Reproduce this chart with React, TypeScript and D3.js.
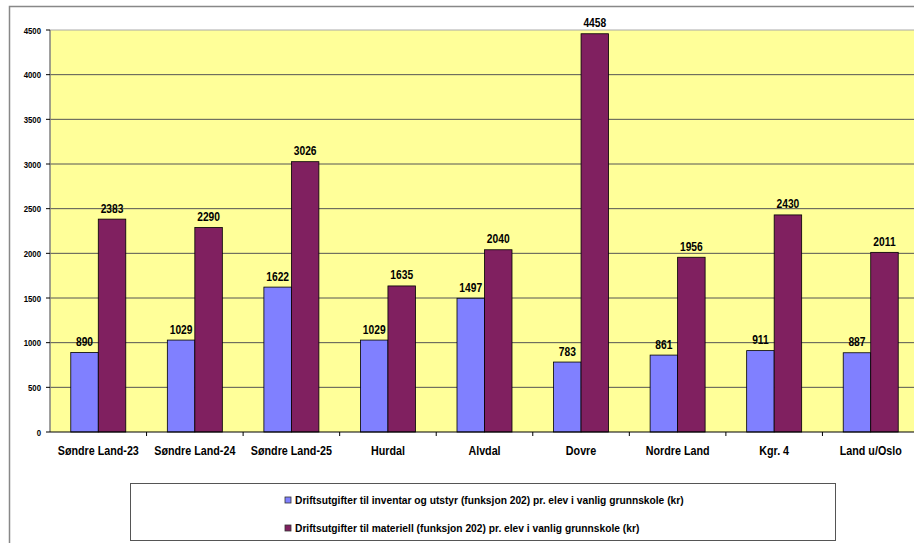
import React from "react";
import * as d3 from "d3";

const categories = ["Søndre Land-23", "Søndre Land-24", "Søndre Land-25", "Hurdal", "Alvdal", "Dovre", "Nordre Land", "Kgr. 4", "Land u/Oslo"];
const inventar = [890, 1029, 1622, 1029, 1497, 783, 861, 911, 887];
const materiell = [2383, 2290, 3026, 1635, 2040, 4458, 1956, 2430, 2011];
const seriesNames = [
  "Driftsutgifter til inventar og utstyr (funksjon 202) pr. elev i vanlig grunnskole (kr)",
  "Driftsutgifter til materiell (funksjon 202) pr. elev i vanlig grunnskole (kr)",
];
const yTicks = [0, 500, 1000, 1500, 2000, 2500, 3000, 3500, 4000, 4500];
const colors = ["#8080FF", "#802060"];

function CText({ x, y, sx, anchor, size, children }: any) {
  return (
    <text transform={`translate(${x},${y}) scale(${sx},1)`} textAnchor={anchor} fontSize={size} fontWeight="bold">
      {children}
    </text>
  );
}

export default function App() {
  const W = 914, H = 543;
  const left = 50, top = 30, right = 919, bottom = 432;
  const x = d3.scaleBand().domain(categories).range([left, right]).paddingInner(0).paddingOuter(0);
  const y = d3.scaleLinear().domain([0, 4500]).range([bottom, top]);
  const bw = x.bandwidth();
  const barW = 27.5;
  const groupOff = (bw - 2 * barW) / 2;
  const font = "'Liberation Sans', Arial, sans-serif";
  const series = [inventar, materiell];
  return (
    <svg width={W} height={H} style={{ position: "absolute", left: 0, top: 0 }} fontFamily={font}>
      <rect x={0} y={0} width={W} height={H} fill="#fff" />
      <rect x={9.5} y={6.5} width={W + 20} height={H + 20} fill="#fff" stroke="#888" strokeWidth={1.5} />
      <rect x={left} y={top} width={right - left} height={bottom - top} fill="#FFFF99" />
      <line x1={left} x2={right} y1={top} y2={top} stroke="#aaa" strokeWidth={1} />
      {yTicks.slice(1, -1).map((t) => (
        <line key={t} x1={left} x2={right} y1={y(t)} y2={y(t)} stroke="#555" strokeWidth={1} />
      ))}
      {categories.map((c, i) =>
        series.map((s, k) => (
          <rect
            key={c + k}
            x={(x(c) as number) + groupOff + k * barW}
            y={y(s[i])}
            width={barW}
            height={bottom - y(s[i])}
            fill={colors[k]}
            stroke="#000"
            strokeWidth={0.8}
          />
        ))
      )}
      {categories.map((c, i) =>
        series.map((s, k) => (
          <CText
            key={"l" + c + k}
            x={(x(c) as number) + groupOff + k * barW + barW / 2}
            y={y(s[i]) - 6.5}
            sx={0.82}
            anchor="middle"
            size={12.5}
          >
            {s[i]}
          </CText>
        ))
      )}
      <line x1={left} x2={left} y1={top} y2={bottom} stroke="#808080" strokeWidth={1.5} />
      <line x1={left} x2={right} y1={bottom} y2={bottom} stroke="#000" strokeWidth={1.2} />
      {yTicks.map((t) => (
        <g key={"t" + t}>
          <line x1={left - 4} x2={left} y1={y(t)} y2={y(t)} stroke="#000" />
          <CText x={left - 9} y={y(t) + 3.5} sx={0.82} anchor="end" size={9.5}>
            {t}
          </CText>
        </g>
      ))}
      {categories.map((c, i) => (
        <g key={"c" + c}>
          {i > 0 && <line x1={x(c)} x2={x(c)} y1={bottom} y2={bottom + 4} stroke="#000" />}
          <CText x={(x(c) as number) + bw / 2} y={bottom + 22.5} sx={0.86} anchor="middle" size={12.5}>
            {c}
          </CText>
        </g>
      ))}
      <rect x={130.5} y={483.5} width={705} height={57} fill="#fff" stroke="#555" strokeWidth={1} />
      {seriesNames.map((n, k) => (
        <g key={"lg" + k}>
          <rect x={285} y={497 + k * 28} width={6} height={6} fill={colors[k]} stroke="#333" strokeWidth={0.8} />
          <CText x={295} y={504 + k * 28} sx={0.89} anchor="start" size={11.5}>
            {n}
          </CText>
        </g>
      ))}
    </svg>
  );
}
